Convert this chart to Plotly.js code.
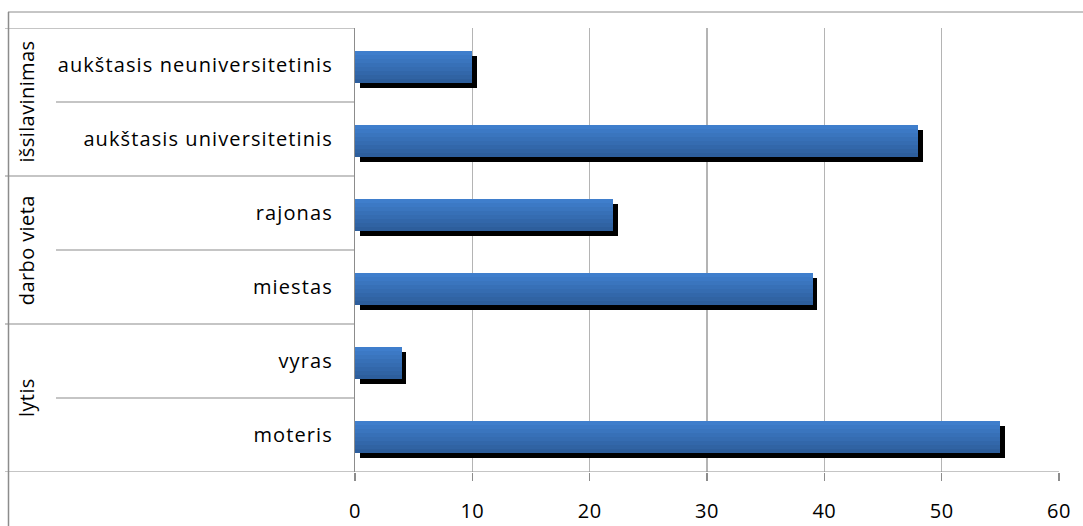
<!DOCTYPE html>
<html>
<head>
<meta charset="utf-8">
<script src="https://cdn.plot.ly/plotly-3.0.1.min.js"></script>
<style>
html,body{margin:0;padding:0;background:#fff;}
#chart{width:1083px;height:526px;}
#chart .ytick text{letter-spacing:1.1px;}
#chart .annotation-text{letter-spacing:0.4px;}
#chart .xtick text{letter-spacing:0.5px;}
</style>
</head>
<body>
<div id="chart"></div>
<script>
// ---- data ----
const categories = ['moteris', 'vyras', 'miestas', 'rajonas', 'aukštasis universitetinis', 'aukštasis neuniversitetinis'];
const groups = ['lytis', 'lytis', 'darbo vieta', 'darbo vieta', 'išsilavinimas', 'išsilavinimas'];
const values = [55, 4, 39, 22, 48, 10];
const xTicks = [0, 10, 20, 30, 40, 50, 60];

// ---- geometry / style ----
const W = 1083, H = 526;
const mL = 355, mR = 24, mT = 28, mB = 54;
const plotW = W - mL - mR, plotH = H - mT - mB;
const bandPx = plotH / categories.length;
const unitPx = plotW / 60;
const FONT = '"Open Sans", Lato, sans-serif';
const barTop = 0.189, barW = 0.432;
const N = 8;
const topCol = [63, 126, 204], botCol = [45, 94, 156];

const traces = [];
// shadow
traces.push({
  type: 'bar', orientation: 'h', y: categories, x: values,
  base: 4.5 / unitPx,
  offset: barTop - barW - 5 / bandPx, width: barW,
  marker: {color: '#000000', line: {width: 0}},
  hoverinfo: 'skip', showlegend: false
});
// gradient stripes of the main bar
for (let i = 0; i < N; i++) {
  const t = i / (N - 1);
  const c = topCol.map((v, k) => Math.round(v + (botCol[k] - v) * t));
  traces.push({
    type: 'bar', orientation: 'h', y: categories, x: values,
    offset: barTop - (i + 1) * barW / N, width: barW / N,
    marker: {color: `rgb(${c.join(',')})`, line: {width: 0}},
    hoverinfo: 'skip', showlegend: false
  });
}

const px2paperX = p => (p - mL) / plotW;
const px2paperY = p => 1 - (p - mT) / plotH;
const lineCol = '#8c8c8c';

const shapes = [];
// outer chart border (top and left)
shapes.push({type: 'line', xref: 'paper', yref: 'paper', x0: px2paperX(8), x1: px2paperX(W), y0: px2paperY(12), y1: px2paperY(12), line: {color: lineCol, width: 1}});
shapes.push({type: 'line', xref: 'paper', yref: 'paper', x0: px2paperX(8.5), x1: px2paperX(8.5), y0: px2paperY(12), y1: px2paperY(H), line: {color: lineCol, width: 1.5}});
// category dividers
for (let k = 0; k <= categories.length; k++) {
  const yv = k - 0.5;
  const isGroupEdge = (k === 0 || k === categories.length || groups[k] !== groups[k - 1]);
  shapes.push({
    type: 'line', xref: 'paper', yref: 'y',
    x0: px2paperX(isGroupEdge ? 5 : 56), x1: k === 0 ? 1 : 0,
    y0: yv, y1: yv, line: {color: lineCol, width: 1.2}, layer: 'above'
  });
}

// group labels
const annotations = [];
const uniq = [...new Set(groups)];
uniq.forEach(g => {
  const idx = groups.map((v, i) => v === g ? i : -1).filter(i => i >= 0);
  const mid = (idx[0] + idx[idx.length - 1]) / 2;
  annotations.push({
    xref: 'paper', yref: 'y', x: px2paperX(26), y: mid, text: g,
    textangle: -90, showarrow: false, xanchor: 'center', yanchor: 'middle',
    font: {family: FONT, size: 20, color: '#000'}
  });
});

const layout = {
  width: W, height: H,
  margin: {l: mL, r: mR, t: mT, b: mB, pad: 0},
  paper_bgcolor: '#fff', plot_bgcolor: '#fff',
  barmode: 'overlay', bargap: 0,
  showlegend: false,
  xaxis: {
    range: [0, 60], tickvals: xTicks, ticktext: xTicks.map(String),
    showgrid: true, gridcolor: '#b4b4b4', gridwidth: 1.2,
    zeroline: false, showline: false,
    ticks: 'outside', ticklen: 8, tickcolor: lineCol, tickwidth: 1.2,
    ticklabelstandoff: 13,
    tickfont: {family: FONT, size: 20, color: '#000'},
    fixedrange: true
  },
  yaxis: {
    type: 'category', categoryorder: 'array', categoryarray: categories,
    range: [-0.5, categories.length - 0.5],
    showgrid: false, zeroline: false,
    showline: true, linecolor: lineCol, linewidth: 1.2,
    ticks: '', ticklabelstandoff: 17,
    tickfont: {family: FONT, size: 20, color: '#000'},
    fixedrange: true
  },
  shapes: shapes,
  annotations: annotations
};

Plotly.newPlot('chart', traces, layout, {displayModeBar: false, staticPlot: true});
</script>
</body>
</html>
